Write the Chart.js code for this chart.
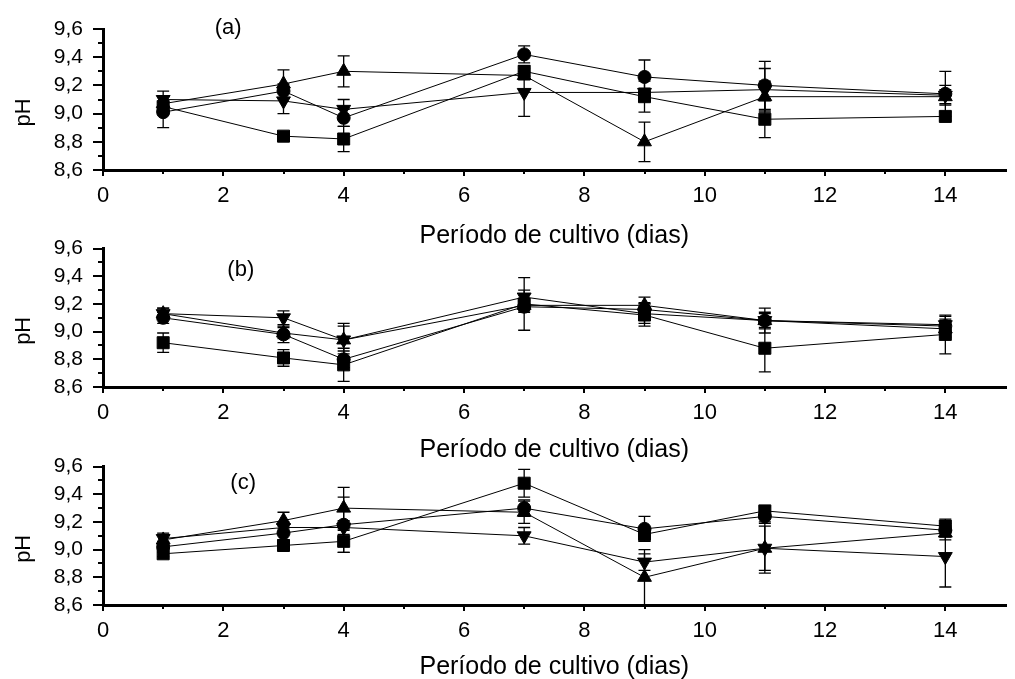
<!DOCTYPE html>
<html>
<head>
<meta charset="utf-8">
<script src="https://cdn.jsdelivr.net/npm/chart.js@4/dist/chart.umd.min.js"></script>
<style>
  html, body { margin: 0; padding: 0; background: #fff; overflow: hidden; }
  canvas { position: absolute; left: 0; }
</style>
</head>
<body>
<canvas id="chartA" width="1015" height="251" style="top:0px"></canvas>
<canvas id="chartB" width="1015" height="239" style="top:226px"></canvas>
<canvas id="chartC" width="1015" height="238" style="top:444px"></canvas>
<script>
// dias de coleta
const days = [1, 3, 4, 7, 9, 11, 14];

// eixos
const xTicks = [0, 2, 4, 6, 8, 10, 12, 14];
const xMinor = [1, 3, 5, 7, 9, 11, 13];
const yTicks = [8.6, 8.8, 9.0, 9.2, 9.4, 9.6];
const yMinor = [8.7, 8.9, 9.1, 9.3, 9.5];

// (a)
const aSquare = [9.05, 8.84, 8.82, 9.30, 9.12, 8.96, 8.98];
const aSquareErr = [0.03, 0.03, 0.09, 0.04, 0.11, 0.13, 0.03];
const aCircle = [9.01, 9.16, 8.97, 9.42, 9.26, 9.20, 9.14];
const aCircleErr = [0.11, 0.05, 0.06, 0.06, 0.12, 0.17, 0.16];
const aUp = [9.07, 9.21, 9.30, 9.27, 8.80, 9.12, 9.12];
const aUpErr = [0.05, 0.10, 0.11, 0.03, 0.14, 0.11, 0.05];
const aDown = [9.10, 9.09, 9.03, 9.15, 9.15, 9.17, 9.13];
const aDownErr = [0.06, 0.09, 0.07, 0.17, 0.03, 0.15, 0.07];

// (b)
const bSquare = [8.92, 8.81, 8.76, 9.20, 9.12, 8.88, 8.98];
const bSquareErr = [0.07, 0.06, 0.12, 0.19, 0.08, 0.17, 0.14];
const bCircle = [9.10, 8.98, 8.80, 9.18, 9.16, 9.08, 9.04];
const bCircleErr = [0.04, 0.06, 0.06, 0.04, 0.05, 0.05, 0.05];
const bUp = [9.13, 8.99, 8.94, 9.19, 9.19, 9.08, 9.02];
const bUpErr = [0.04, 0.04, 0.12, 0.04, 0.06, 0.09, 0.06];
const bDown = [9.13, 9.10, 8.94, 9.25, 9.13, 9.08, 9.05];
const bDownErr = [0.04, 0.05, 0.10, 0.05, 0.07, 0.06, 0.06];

// (c)
const cSquare = [8.97, 9.03, 9.06, 9.48, 9.11, 9.28, 9.17];
const cSquareErr = [0.02, 0.02, 0.08, 0.10, 0.05, 0.03, 0.05];
const cCircle = [9.02, 9.12, 9.18, 9.30, 9.15, 9.24, 9.14];
const cCircleErr = [0.04, 0.05, 0.20, 0.06, 0.09, 0.04, 0.05];
const cUp = [9.07, 9.21, 9.30, 9.27, 8.80, 9.01, 9.12];
const cUpErr = [0.04, 0.06, 0.15, 0.08, 0.20, 0.16, 0.05];
const cDown = [9.08, 9.16, 9.16, 9.10, 8.91, 9.01, 8.95];
const cDownErr = [0.04, 0.04, 0.05, 0.06, 0.06, 0.18, 0.22];

const FONT = "'Liberation Sans', Arial, sans-serif";

function series(vals, errs, style, radius, rotation) {
  return {
    data: vals.map((v, i) => ({ x: days[i], y: v })),
    errors: errs,
    showLine: true,
    borderColor: '#000',
    borderWidth: 1,
    tension: 0,
    pointStyle: style,
    pointRotation: rotation || 0,
    pointRadius: radius,
    pointBackgroundColor: '#000',
    pointBorderColor: '#000',
    pointBorderWidth: 1
  };
}

// barras de erro (desvio) desenhadas por baixo dos marcadores
const errorBars = {
  id: 'errorBars',
  beforeDatasetsDraw(chart) {
    const { ctx, scales: { x, y } } = chart;
    ctx.save();
    ctx.strokeStyle = '#000';
    ctx.lineWidth = 1.3;
    chart.data.datasets.forEach(ds => {
      ds.data.forEach((p, i) => {
        const e = ds.errors[i];
        const px = x.getPixelForValue(p.x);
        const top = y.getPixelForValue(p.y + e);
        const bot = y.getPixelForValue(p.y - e);
        ctx.beginPath();
        ctx.moveTo(px, top); ctx.lineTo(px, bot);
        ctx.moveTo(px - 6, top); ctx.lineTo(px + 6, top);
        ctx.moveTo(px - 6, bot); ctx.lineTo(px + 6, bot);
        ctx.stroke();
      });
    });
    ctx.restore();
  }
};

// ticks menores nos dois eixos
const minorTicks = {
  id: 'minorTicks',
  afterDraw(chart) {
    const { ctx, chartArea, scales: { x, y } } = chart;
    ctx.save();
    ctx.strokeStyle = '#000';
    ctx.lineWidth = 2;
    ctx.beginPath();
    xMinor.forEach(v => {
      const px = Math.round(x.getPixelForValue(v));
      ctx.moveTo(px, chartArea.bottom);
      ctx.lineTo(px, chartArea.bottom + 4);
    });
    yMinor.forEach(v => {
      const py = Math.round(y.getPixelForValue(v));
      ctx.moveTo(chartArea.left, py);
      ctx.lineTo(chartArea.left - 5, py);
    });
    ctx.stroke();
    ctx.restore();
  }
};

// rótulo do painel (a), (b), (c) e título "pH" do eixo vertical
const panelText = {
  id: 'panelText',
  afterDraw(chart, args, opts) {
    const { ctx, chartArea, scales: { x, y } } = chart;
    ctx.save();
    ctx.fillStyle = '#000';
    ctx.textAlign = 'center';
    ctx.textBaseline = 'middle';
    ctx.font = '22px ' + FONT;
    ctx.fillText(opts.text, x.getPixelForValue(opts.x), y.getPixelForValue(opts.y));

    ctx.translate(24, (chartArea.top + chartArea.bottom) / 2 + 13);
    ctx.rotate(-Math.PI / 2);
    ctx.font = '22px ' + FONT;
    ctx.fillText('pH', 0, 0);
    ctx.restore();
  }
};

function buildPanel(id, sets, cfg) {
  new Chart(document.getElementById(id), {
    type: 'scatter',
    data: {
      datasets: [
        series(sets[0], sets[1], 'rect', 8.5),
        series(sets[2], sets[3], 'circle', 6.5),
        series(sets[4], sets[5], 'triangle', 8),
        series(sets[6], sets[7], 'triangle', 8, 180)
      ]
    },
    options: {
      responsive: false,
      animation: false,
      events: [],
      layout: { padding: { top: cfg.padTop, right: 3, left: 0, bottom: 0 } },
      plugins: {
        legend: { display: false },
        tooltip: { enabled: false },
        panelText: { text: cfg.label, x: cfg.labelX, y: cfg.labelY }
      },
      scales: {
        x: {
          type: 'linear',
          min: 0,
          max: 15,
          afterBuildTicks: s => { s.ticks = xTicks.map(v => ({ value: v })); },
          afterFit: s => { s.height = cfg.xAxisHeight; },
          ticks: {
            color: '#000',
            font: { family: FONT, size: 22 },
            padding: 7,
            maxRotation: 0,
            autoSkip: false,
            callback: v => String(v)
          },
          grid: { drawOnChartArea: false, color: '#000', lineWidth: 2, tickLength: 6 },
          border: { color: '#000', width: 3 },
          title: {
            display: true,
            text: 'Período de cultivo (dias)',
            color: '#000',
            font: { family: FONT, size: 25 },
            padding: { top: 0, bottom: 0 }
          }
        },
        y: {
          type: 'linear',
          min: 8.6,
          max: 9.6,
          afterBuildTicks: s => { s.ticks = yTicks.map(v => ({ value: v })); },
          afterFit: s => { s.width = 103; },
          ticks: {
            color: '#000',
            font: { family: FONT, size: 21 },
            padding: 10,
            autoSkip: false,
            callback: v => v.toFixed(1).replace('.', ',')
          },
          grid: { drawOnChartArea: false, color: '#000', lineWidth: 2, tickLength: 10 },
          border: { color: '#000', width: 3 }
        }
      }
    },
    plugins: [errorBars, minorTicks, panelText]
  });
}

buildPanel('chartA',
  [aSquare, aSquareErr, aCircle, aCircleErr, aUp, aUpErr, aDown, aDownErr],
  { padTop: 29, xAxisHeight: 81, label: '(a)', labelX: 2.08, labelY: 9.607 });

buildPanel('chartB',
  [bSquare, bSquareErr, bCircle, bCircleErr, bUp, bUpErr, bDown, bDownErr],
  { padTop: 21, xAxisHeight: 78, label: '(b)', labelX: 2.29, labelY: 9.446 });

buildPanel('chartC',
  [cSquare, cSquareErr, cCircle, cCircleErr, cUp, cUpErr, cDown, cDownErr],
  { padTop: 20, xAxisHeight: 77, label: '(c)', labelX: 2.33, labelY: 9.48 });
</script>
</body>
</html>
